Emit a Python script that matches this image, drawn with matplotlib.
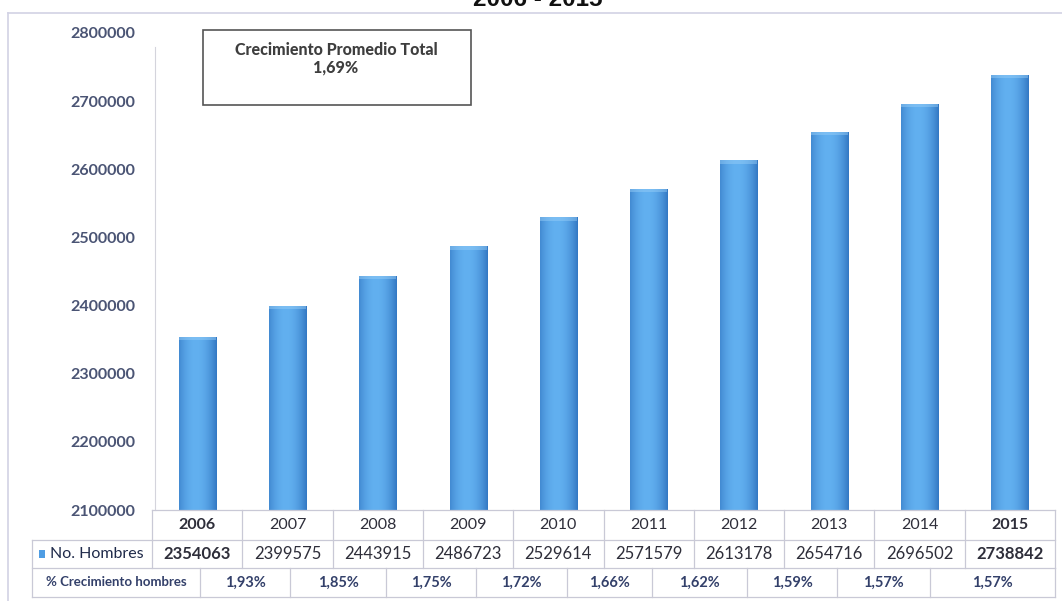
#!/usr/bin/env python

import numpy as np
import matplotlib.pyplot as plt
from matplotlib.lines import Line2D
from matplotlib.patches import Rectangle
from matplotlib.transforms import blended_transform_factory

years = ['2006', '2007', '2008', '2009', '2010',
         '2011', '2012', '2013', '2014', '2015']
hombres = [2354063, 2399575, 2443915, 2486723, 2529614,
           2571579, 2613178, 2654716, 2696502, 2738842]
crecimiento = ['1,93%', '1,85%', '1,75%', '1,72%', '1,66%',
               '1,62%', '1,59%', '1,57%', '1,57%']
promedio = '1,69%'
yticks = [2100000, 2200000, 2300000, 2400000, 2500000,
          2600000, 2700000, 2800000]

FONT = ['Lato', 'DejaVu Sans']
TXT = '#4a5474'
GRID = '#c9c9d6'


def gradient_bars(ax, bars):
    # horizontal shading: darker edges, lighter middle
    g = np.linspace(0, 1, 64)
    shade = 1 - (2 * np.abs(g - 0.45)) ** 2
    lo = np.array([0x3b, 0x82, 0xcb]) / 255.
    hi = np.array([0x62, 0xb0, 0xf0]) / 255.
    img = lo + (hi - lo) * shade[:, None]
    img = img[None, :, :]
    for b in bars:
        x0, y0 = b.get_x(), b.get_y()
        im = ax.imshow(img, extent=[x0, x0 + b.get_width(), y0, y0 + b.get_height()],
                       aspect='auto', zorder=3, interpolation='bilinear')
        im.set_clip_path(b)
        # soft lighter cap on top of each bar
        ax.add_patch(Rectangle((x0, y0 + b.get_height() - 5000), b.get_width(), 5000,
                               color='#9ad0f8', alpha=0.45, lw=0, zorder=4))


def main(filename='out.png'):
    plt.rcParams['font.family'] = FONT
    fig = plt.figure(figsize=(10.62, 6.01), dpi=100)
    ax = fig.add_axes([152 / 1062, 1 - 510 / 601, 903 / 1062, 477 / 601])

    x = np.arange(len(years))
    bars = ax.bar(x, [v - yticks[0] for v in hombres], bottom=yticks[0], width=0.41,
                  color='#4f9de3', edgecolor='none', zorder=2)
    gradient_bars(ax, bars)

    ax.set_xlim(-0.5, len(years) - 0.5)
    ax.set_ylim(yticks[0], yticks[-1])
    # spine placement resets the ticks, so it goes before the label styling
    for s in ['top', 'right', 'bottom']:
        ax.spines[s].set_visible(False)
    ax.spines['left'].set_color('#d4d4dc')
    ax.spines['left'].set_bounds(yticks[0], 2780000)
    ax.spines['left'].set_position(('data', -0.47))
    ax.set_xticks([])
    ax.tick_params(axis='y', length=0, pad=14, labelsize=11.5, labelcolor=TXT)
    ax.set_yticks(yticks)
    ax.set_yticklabels([str(t) for t in yticks], fontsize=11.5, fontweight='bold',
                       color=TXT)

    # data table under the bars
    tr = blended_transform_factory(ax.transData, fig.transFigure)
    r0, r1, r2, r3 = 1 - 510 / 601, 1 - 540 / 601, 1 - 568 / 601, 1 - 597 / 601
    left = -1.83
    lw = 0.9

    def hline(x0, x1, y):
        fig.add_artist(Line2D([x0, x1], [y, y], transform=tr, color=GRID, lw=lw))

    def vline(xv, y0, y1):
        fig.add_artist(Line2D([xv, xv], [y0, y1], transform=tr, color=GRID, lw=lw))

    hline(-0.5, 9.5, r0)
    hline(left, 9.5, r1)
    hline(left, 9.5, r2)
    hline(left, 9.5, r3)
    vline(left, r1, r3)
    for k in range(len(years) + 1):
        vline(k - 0.5, r0 if k > 0 else r1, r2)
    vline(-0.5, r0, r1)

    bold_cols = {0, len(years) - 1}
    for i, (yr, v) in enumerate(zip(years, hombres)):
        w = 'bold' if i in bold_cols else 'normal'
        fig.text(i, (r0 + r1) / 2, yr, transform=tr, ha='center', va='center',
                 fontsize=11.5, fontweight=w, color='#2e2e3a')
        fig.text(i, (r1 + r2) / 2, str(v), transform=tr, ha='center', va='center',
                 fontsize=12, fontweight=w, color='#2e2e3a')

    fig.add_artist(Rectangle((left + 0.08, (r1 + r2) / 2 - 0.006), 0.07, 0.013,
                             transform=tr, color='#4f9de3', lw=0))
    fig.text(left + 0.2, (r1 + r2) / 2, 'No. Hombres', transform=tr, ha='left', va='center',
             fontsize=11.5, color='#1f2a4a')

    # growth row, its cells do not line up with the year columns
    pct_edges = [left, 0.03, 1.03, 2.09, 3.09, 4.1, 5.04, 6.09, 7.09, 8.12, 9.5]
    for e in pct_edges[1:]:
        vline(e, r2, r3)
    fig.text((left + pct_edges[1]) / 2, (r2 + r3) / 2, '% Crecimiento hombres',
             transform=tr, ha='center', va='center', fontsize=9.5, fontweight='bold',
             color='#33406a')
    for i, p in enumerate(crecimiento):
        xc = (pct_edges[i + 1] + pct_edges[i + 2]) / 2
        fig.text(xc, (r2 + r3) / 2, p, transform=tr, ha='center', va='center',
                 fontsize=10.5, fontweight='bold', color='#33406a')

    # average growth box
    fig.add_artist(Rectangle((203 / 1062, 1 - 105 / 601), 268 / 1062, 75 / 601,
                             transform=fig.transFigure, fill=False, ec='#555555', lw=1.2))
    fig.text(336 / 1062, 1 - 59 / 601, 'Crecimiento Promedio Total\n' + promedio,
             ha='center', va='center', fontsize=11.5, fontweight='black', color='#3e3e3e',
             linespacing=1.15)

    # outer frame and clipped title
    fig.add_artist(Line2D([8 / 1062, 1], [1 - 13 / 601] * 2, transform=fig.transFigure,
                          color='#d2d2e4', lw=1.2))
    fig.add_artist(Line2D([8 / 1062] * 2, [0, 1 - 13 / 601], transform=fig.transFigure,
                          color='#d2d2e4', lw=1.2))
    fig.text(538 / 1062, 1 - 6 / 601, '2006 - 2015', ha='center', va='baseline',
             fontsize=17.5, fontweight='bold', family=['Liberation Sans', 'DejaVu Sans'],
             color='#111111')

    fig.savefig(filename, dpi=100)


if __name__ == "__main__":
    main()
